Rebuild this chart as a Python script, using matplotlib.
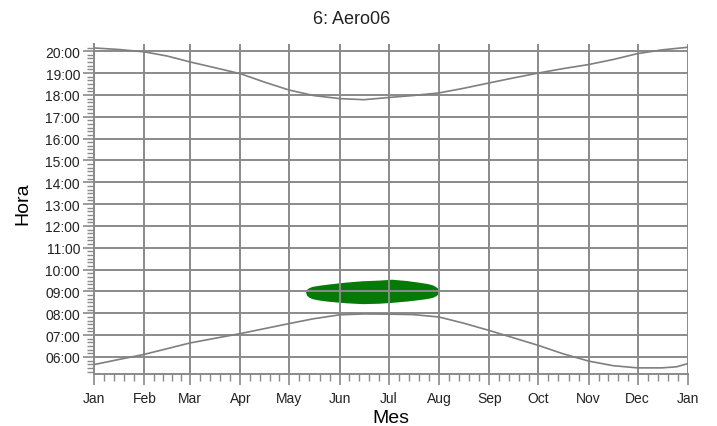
import numpy as np
import matplotlib
matplotlib.use("Agg")
import matplotlib.pyplot as plt
from matplotlib.ticker import FixedLocator, MultipleLocator, FuncFormatter

plt.rcParams['font.family'] = ['Liberation Sans', 'DejaVu Sans']

# month starts (day of year) and labels
month_days = [0, 31, 59, 90, 120, 151, 181, 212, 243, 273, 304, 334, 365]
month_labels = ['Jan', 'Feb', 'Mar', 'Apr', 'May', 'Jun', 'Jul', 'Aug',
                'Sep', 'Oct', 'Nov', 'Dec', 'Jan']

# sunset / sunrise (decimal hours)
curve_days = [0, 15, 31, 45, 59, 74, 90, 105, 120, 135, 151, 166, 181,
              196, 212, 227, 243, 258, 273, 288, 304, 319, 334, 349, 358, 365]
sunset = [20.15, 20.08, 19.97, 19.78, 19.51, 19.25, 18.97, 18.58, 18.22, 17.97,
          17.83, 17.78, 17.88, 17.97, 18.09, 18.3, 18.55, 18.78, 19.0, 19.2,
          19.39, 19.62, 19.89, 20.06, 20.13, 20.18]
sunrise = [5.65, 5.88, 6.12, 6.38, 6.64, 6.85, 7.07, 7.3, 7.53, 7.75, 7.93,
           7.97, 7.96, 7.94, 7.83, 7.55, 7.21, 6.87, 6.53, 6.15, 5.81, 5.6,
           5.5, 5.5, 5.55, 5.7]

# green region (event times)
blob_days = [130, 130.7, 132, 134, 138, 144, 155, 165, 175, 183, 192, 199,
             205, 208, 210, 211.3, 212]
blob_top = [8.97, 9.1, 9.17, 9.23, 9.28, 9.34, 9.43, 9.49, 9.52, 9.56, 9.5,
            9.43, 9.36, 9.3, 9.22, 9.14, 9.04]
blob_bot = [8.97, 8.82, 8.74, 8.67, 8.61, 8.55, 8.48, 8.44, 8.46, 8.5, 8.56,
            8.62, 8.68, 8.73, 8.8, 8.88, 9.0]

grid_c = '#8a8a8a'

fig = plt.figure(figsize=(7.17, 4.27), dpi=100)
ax = fig.add_axes([0.131, 0.1218, 0.8286, 0.7728])

ax.fill_between(blob_days, blob_bot, blob_top, color='#067a06', lw=0, zorder=1)
ax.plot(curve_days, sunset, color='#7f7f7f', lw=1.2, zorder=3)
ax.plot(curve_days, sunrise, color='#7f7f7f', lw=1.2, zorder=3)

ax.set_xlim(0, 365)
ax.set_ylim(5.22, 20.33)

ax.xaxis.set_major_locator(FixedLocator(month_days))
ax.set_xticklabels(month_labels)
minor_x = []
for a, b in zip(month_days[:-1], month_days[1:]):
    minor_x += list(np.linspace(a, b, 6)[1:-1])
ax.xaxis.set_minor_locator(FixedLocator(minor_x))

ax.yaxis.set_major_locator(MultipleLocator(1))
ax.yaxis.set_minor_locator(MultipleLocator(1 / 6))
ax.yaxis.set_major_formatter(FuncFormatter(lambda v, p: '%02d:00' % round(v)))

ax.grid(True, which='major', color=grid_c, lw=1.4, zorder=2)
ax.set_axisbelow(False)

for s in ['top', 'right']:
    ax.spines[s].set_visible(False)
for s in ['left', 'bottom']:
    ax.spines[s].set_color(grid_c)
    ax.spines[s].set_linewidth(1.4)

ax.tick_params(which='major', direction='out', length=8, width=1.2,
               color=grid_c, labelsize=10, labelcolor='#222222', pad=2)
ax.tick_params(which='minor', direction='out', length=5, width=1,
               color=grid_c)
ax.tick_params(axis='x', pad=4)

ax.set_xlabel('Mes', fontsize=14, labelpad=3)
ax.set_ylabel('Hora', fontsize=14)
ax.yaxis.set_label_coords(-0.106, 0.52)
fig.text(0.491, 0.955, '6: Aero06', fontsize=13, ha='center', va='center',
         color='#222222')

fig.savefig('out.png', dpi=100)
